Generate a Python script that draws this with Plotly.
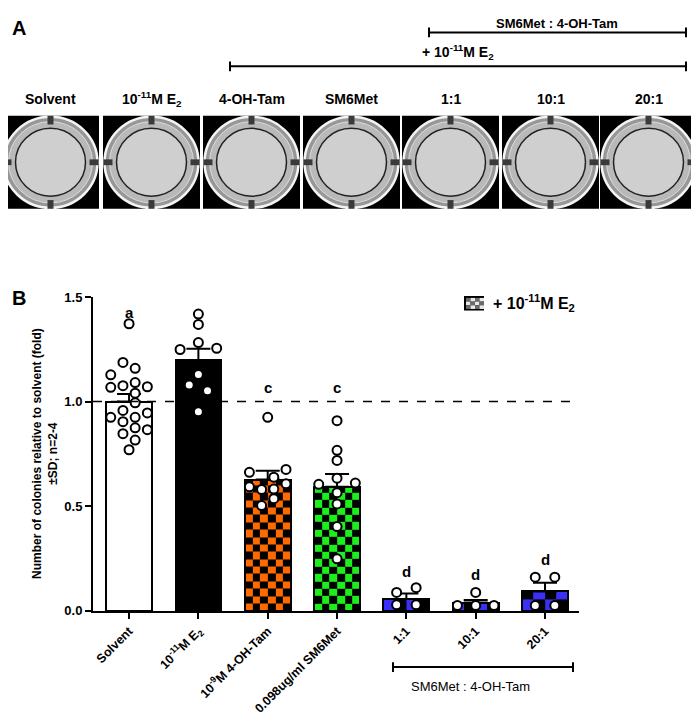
import plotly.graph_objects as go

# the page adds an 8 px body margin, so the figure is drawn 16 px smaller
OFF = 8
W, H = 699 - 2 * OFF, 724 - 2 * OFF

# ---- data ----
groups = ['Solvent', '10<sup>-11</sup>M E<sub>2</sub>', '10<sup>-9</sup>M 4-OH-Tam',
          '0.098ug/ml SM6Met', '1:1', '10:1', '20:1']
means = [1.0, 1.198, 0.628, 0.593, 0.057, 0.040, 0.093]
errors = [0.036, 0.055, 0.042, 0.061, 0.026, 0.012, 0.041]
letters = ['a', 'b', 'c', 'c', 'd', 'd', 'd']
letter_y = [1.425, 1.54, 1.065, 1.065, 0.19, 0.176, 0.245]

solvent_pts = [1.372, 1.187, 1.159, 1.128, 1.091, 1.068, 1.076, 1.071, 1.040, 0.994,
               0.958, 0.946, 0.925, 0.925, 0.904, 0.875, 0.866, 0.847, 0.816, 0.770]
e2_pts = [1.418, 1.369, 1.282, 1.249, 1.255, 1.130, 1.079, 1.052, 0.951]
tam_pts = [0.925, 0.662, 0.676, 0.639, 0.593, 0.580, 0.582, 0.608, 0.536, 0.503]
sm6_pts = [0.909, 0.767, 0.719, 0.634, 0.605, 0.611, 0.565, 0.511, 0.403, 0.249]
r1_pts = [0.088, 0.111, 0.029, 0.029]
r10_pts = [0.088, 0.026, 0.026, 0.026]
r20_pts = [0.161, 0.161, 0.026, 0.026]
points = [solvent_pts, e2_pts, tam_pts, sm6_pts, r1_pts, r10_pts, r20_pts]

# jitter column of each dot (in dot widths)
solvent_cols = [0, -0.5, 0.5, -1.5, 0.5, -1.5, -0.5, 1.5, 0.5, 0.5,
                -0.5, 1.5, -1.5, 0.5, -0.5, 0.5, 1.5, -0.5, 0.5, 0]
e2_cols = [0, 0, 0, -1.5, 1.5, 0, -0.75, 0.75, 0]
tam_cols = [0, -1.5, 1.5, 0.5, -1.5, -0.5, 0.5, 1.5, 0.5, -0.5]
sm6_cols = [0, 0, 0, 0, -1.5, 1.5, 0, 0, 0, 0]
r1_cols = [-0.8, 0.8, -0.8, 0.8]
r10_cols = [0, -1.5, 0, 1.5]
r20_cols = [-0.8, 0.8, -0.8, 0.8]
cols = [solvent_cols, e2_cols, tam_cols, sm6_cols, r1_cols, r10_cols, r20_cols]

photo_labels = ['Solvent', '10<sup>-11</sup>M E<sub>2</sub>', '4-OH-Tam', 'SM6Met', '1:1', '10:1', '20:1']

fills = ['white', 'black', '#ff6a00', '#1cf01c', '#3b30f5', '#3b30f5', '#3b30f5']
checkered = [False, False, True, True, True, True, True]
check_cols = [0, 0, 6, 6, 4, 4, 4]

# ---- geometry (in reference pixels) ----
X0PX, X1PX, Y0PX, Y1PX = 93, 579, 623, 299
XR = [-0.52, 6.49]
YR = [0, 1.5]
PX_X = (X1PX - X0PX) / (XR[1] - XR[0])
PX_Y = (Y0PX - Y1PX) / (YR[1] - YR[0])
BAR_W = 0.66
DOT_STEP = 12.2 / PX_X
FONT = 'Arial, Liberation Sans, sans-serif'


def px(x, y):
    return (x - OFF) / W, 1 - (y - OFF) / H


fig = go.Figure()

# checker fill under the bars
for i, m in enumerate(means):
    if not checkered[i]:
        continue
    n = check_cols[i]
    left = i - BAR_W / 2
    cw = BAR_W / n
    xe = [left + k * cw for k in range(n + 1)]
    ch = cw * PX_X / PX_Y
    ye = [0.0]
    while ye[-1] + ch < m - 1e-9:
        ye.append(ye[-1] + ch)
    ye.append(m)
    z = [[(r + c) % 2 for c in range(n)] for r in range(len(ye) - 1)]
    fig.add_trace(go.Heatmap(x=xe, y=ye, z=z, zmin=0, zmax=1, showscale=False,
                             colorscale=[[0, fills[i]], [1, 'black']], hoverinfo='skip'))

bar_colors = [f if not c else 'rgba(0,0,0,0)' for f, c in zip(fills, checkered)]
fig.add_trace(go.Bar(
    x=list(range(len(groups))), y=means, width=BAR_W,
    marker=dict(color=bar_colors, line=dict(color='black', width=2)),
    error_y=dict(type='data', symmetric=False, array=errors, arrayminus=[0] * len(errors),
                 color='black', thickness=2, width=12),
    showlegend=False))

for i, (vals, cc) in enumerate(zip(points, cols)):
    fig.add_trace(go.Scatter(
        x=[i + c * DOT_STEP for c in cc], y=vals, mode='markers',
        marker=dict(size=9, color='white', line=dict(color='black', width=2)),
        showlegend=False, cliponaxis=False))

shapes = []
annotations = []


def ann(x, y, text, size=14, bold=True, xanchor='center', yanchor='middle', **kw):
    xx, yy = px(x, y)
    annotations.append(dict(x=xx, y=yy, xref='paper', yref='paper', text=text,
                            showarrow=False, xanchor=xanchor, yanchor=yanchor,
                            font=dict(family=FONT, size=size, color='black',
                                      weight='bold' if bold else 'normal'), **kw))


def line(x0, y0, x1, y1, width=2, color='black', dash='solid'):
    a, b = px(x0, y0)
    c, d = px(x1, y1)
    shapes.append(dict(type='line', xref='paper', yref='paper', x0=a, y0=b, x1=c, y1=d,
                       line=dict(color=color, width=width, dash=dash)))


def box(x0, y0, x1, y1, fill, kind='rect', lc=None, lw=0):
    a, b = px(x0, y1)
    c, d = px(x1, y0)
    shapes.append(dict(type=kind, xref='paper', yref='paper', x0=a, y0=b, x1=c, y1=d,
                       fillcolor=fill, line=dict(color=lc or fill, width=lw), layer='below'))


def bracket(x0, x1, y, tick=5):
    line(x0, y, x1, y)
    line(x0, y - tick, x0, y + tick)
    line(x1, y - tick, x1, y + tick)


# ---- panel A ----
ann(10, 8, 'A', size=20, xanchor='left', yanchor='top')
ann(10, 300, 'B', size=20, xanchor='left')
bracket(429, 686, 26)
ann(557, 7, 'SM6Met : 4-OH-Tam', size=13, yanchor='top')
bracket(230, 686, 61)
ann(458, 46, '+ 10<sup>-11</sup>M E<sub>2</sub>', size=14)

photo_x = [2, 103, 203, 303, 402, 502, 600]
for lab, x0 in zip(photo_labels, photo_x):
    cx, cy = x0 + 48.5, 160
    ann(cx, 95, lab, size=14)
    box(x0, 112, x0 + 97, 208, 'black')
    box(cx - 47, cy - 47, cx + 47, cy + 47, '#979797', 'circle', '#f4f4f4', 2.5)
    box(cx - 42, cy - 42, cx + 42, cy + 42, '#b9b9b9', 'circle', '#dcdcdc', 1)
    box(cx - 35, cy - 35, cx + 35, cy + 35, '#cfcfcf', 'circle', '#222222', 1.5)
    box(cx - 3, cy - 48, cx + 3, cy - 39, '#3a3a3a')
    box(cx - 3, cy + 39, cx + 3, cy + 48, '#3a3a3a')
    box(cx - 48, cy - 3, cx - 39, cy + 3, '#3a3a3a')
    box(cx + 39, cy - 3, cx + 48, cy + 3, '#3a3a3a')

# ---- panel B extras ----
shapes.append(dict(type='line', xref='paper', yref='y', x0=px(X0PX, 0)[0], x1=px(X1PX, 0)[0],
                   y0=1, y1=1, line=dict(color='black', width=1.5, dash='dash')))

for i, (l, ly) in enumerate(zip(letters, letter_y)):
    annotations.append(dict(x=i, y=ly, xref='x', yref='y', text=l, showarrow=False,
                            yanchor='middle', font=dict(family=FONT, size=15, weight='bold')))

# legend icon
box(464, 298, 484, 313, 'black')
for r in range(3):
    for c in range(4):
        box(466 + c * 4.5, 300 + r * 3.8, 466 + (c + 1) * 4.5, 300 + (r + 1) * 3.8,
            '#e8e8e8' if (r + c) % 2 else '#6a6a6a')
ann(491, 305, '+ 10<sup>-11</sup>M E<sub>2</sub>', size=16, xanchor='left')

ann(45, 461, 'Number of colonies relative to solvent (fold)<br>±SD; n=2-4', size=12,
    textangle=-90)

bracket(393, 573, 681)
ann(470, 701, 'SM6Met : 4-OH-Tam', size=13, bold=False)

xd0, xd1 = px(X0PX, 0)[0], px(X1PX, 0)[0]
yd0, yd1 = px(0, Y0PX)[1], px(0, Y1PX)[1]
fig.update_layout(
    width=W, height=H, margin=dict(l=0, r=0, t=0, b=0),
    paper_bgcolor='white', plot_bgcolor='white',
    shapes=shapes, annotations=annotations, bargap=0,
    font=dict(family=FONT, color='black'),
    xaxis=dict(domain=[xd0, xd1], range=XR, tickvals=list(range(len(groups))),
               ticktext=groups, tickangle=-45, showline=True, linewidth=2, linecolor='black',
               ticks='outside', ticklen=6, tickwidth=2, tickcolor='black',
               showgrid=False, zeroline=False,
               tickfont=dict(size=12.5, family=FONT, weight='bold')),
    yaxis=dict(domain=[yd0, yd1], range=YR, tickvals=[0, 0.5, 1.0, 1.5],
               tickformat='.1f', showline=True, linewidth=2, linecolor='black',
               ticks='outside', ticklen=6, tickwidth=2, tickcolor='black',
               showgrid=False, zeroline=False,
               tickfont=dict(size=13, family=FONT, weight='bold')),
)

fig.write_html('out.html')
